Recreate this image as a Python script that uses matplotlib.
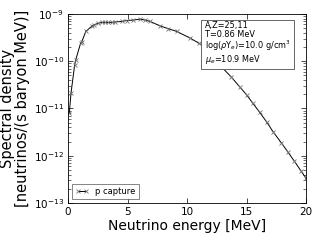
import numpy as np
from matplotlib import pyplot as plt

# spectrum (energy in MeV, log10 of density)
energy = [0.11, 0.25, 0.56, 0.65, 1.07, 1.15, 1.5, 2.05, 2.2, 2.5, 2.83,
          3.1, 3.4, 3.7, 3.95, 4.5, 4.93, 5.5, 6.05, 6.5, 6.9, 7.7, 8.4,
          9.13, 10.25, 11.0, 11.8, 12.4, 12.9, 13.7, 14.45, 15.0, 15.5,
          16.1, 16.7, 17.25, 17.9, 18.5, 19.0, 19.6, 20.0]
log_density = [-11.1, -10.68, -10.08, -9.97, -9.61, -9.59, -9.37, -9.25,
               -9.23, -9.2, -9.18, -9.18, -9.18, -9.18, -9.17, -9.16,
               -9.14, -9.13, -9.11, -9.13, -9.16, -9.25, -9.31, -9.37,
               -9.51, -9.62, -9.76, -9.95, -10.12, -10.33, -10.55, -10.71,
               -10.88, -11.08, -11.29, -11.5, -11.72, -11.93, -12.11,
               -12.33, -12.48]
density = 10.0 ** np.array(log_density)

info = ("A,Z=25,11\nT=0.86 MeV\n"
        r"log($\rho$Y$_e$)=10.0 g/cm$^3$" + "\n" + r"$\mu_e$=10.9 MeV")

fig = plt.figure(figsize=(3.2, 2.4), dpi=100)
ax = fig.add_axes([0.2125, 0.154, 0.744, 0.788])
ax.plot(energy, density, color="black", lw=0.7, marker="x", ms=3,
        mec="0.45", mew=0.6, label="p capture")
ax.set_yscale("log")
ax.set_xlim(0, 20)
ax.set_ylim(1e-13, 1e-9)
ax.set_xticks([0, 5, 10, 15, 20])
ax.tick_params(which="both", direction="in", top=True, right=True, labelsize=7.5)
ax.tick_params(which="major", length=3.5, width=0.5, pad=3)
ax.tick_params(which="minor", length=2, width=0.4)
for s in ax.spines.values():
    s.set_linewidth(0.6)

ax.set_xlabel("Neutrino energy [MeV]", fontsize=10, labelpad=1.5)
ax.set_ylabel("Spectral density\n[neutrinos/(s baryon MeV)]", fontsize=10.5,
              labelpad=3, linespacing=1.0)

ax.text(0.575, 0.96, info, transform=ax.transAxes, fontsize=5.9, va="top",
        linespacing=0.95,
        bbox=dict(boxstyle="square,pad=0.45", fc="white", ec="0.3", lw=0.6))
leg = ax.legend(loc="lower left", fontsize=6, fancybox=False, numpoints=2,
                handlelength=1.6, borderaxespad=0.45)
leg.get_frame().set_edgecolor("0.3")
leg.get_frame().set_linewidth(0.6)

fig.savefig("out.png")
